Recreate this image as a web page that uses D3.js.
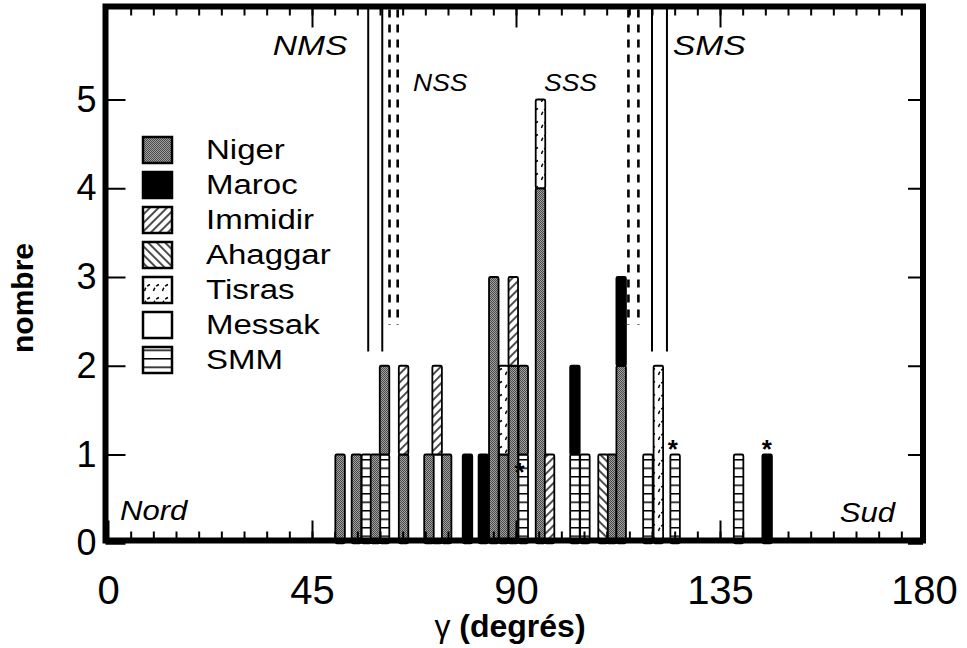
<!DOCTYPE html>
<html>
<head>
<meta charset="utf-8">
<script src="https://cdn.jsdelivr.net/npm/d3@7"></script>
<style>
  body { margin: 0; background: #fff; }
  svg { display: block; }
  text { font-family: "Liberation Sans", Arial, sans-serif; fill: #000; }
</style>
</head>
<body>
<div id="chart"></div>
<script>
// bin centres (degrés) and number of dykes per region in each bin
var angles  = [51.2,54.8,57.0,59.0,61.0,65.2,70.8,72.6,74.7,79.3,82.8,85.1,87.3,89.4,91.6,95.4,97.4,103.0,105.2,109.2,111.1,113.2,119.1,121.4,125.1,139.1,145.4];
var smm     = [0,0,1,0,1,0,0,0,0,0,0,0,0,0,1,0,0,1,1,0,0,0,1,0,1,1,0];
var messak  = [0,0,0,0,0,0,0,1,0,0,0,0,0,0,0,0,0,0,0,0,0,0,0,0,0,0,0];
var niger   = [1,1,0,1,1,1,1,0,1,0,0,3,1,2,1,4,0,0,0,0,1,2,0,0,0,0,0];
var maroc   = [0,0,0,0,0,0,0,0,0,1,1,0,0,0,0,0,0,1,0,0,0,1,0,0,0,0,1];
var immidir = [0,0,0,0,0,1,0,1,0,0,0,0,0,1,0,0,1,0,0,0,0,0,0,0,0,0,0];
var ahaggar = [0,0,0,0,0,0,0,0,0,0,0,0,0,0,0,0,0,0,0,1,0,0,0,0,0,0,0];
var tisras  = [0,0,0,0,0,0,0,0,0,0,0,0,1,0,0,1,0,0,0,0,0,0,0,2,0,0,0];

var legendNames = ["Niger","Maroc","Immidir","Ahaggar","Tisras","Messak","SMM"];
var stackOrder  = ["SMM","Messak","Niger","Maroc","Immidir","Ahaggar","Tisras"];

// starred samples: [angle, level]
var stars = [[90.8, 0.87], [124.6, 1.13], [145.3, 1.13]];

// domain boundaries (degrés)
var solidLines  = [57.4, 60.5, 120.0, 123.3];
var dashedLines = [62.1, 63.9, 114.8, 117.0];
var zoneLabels  = [
  {t: "NMS", a: 52.8, v: 5.5, size: 28, anchor: "end"},
  {t: "NSS", a: 67.3, v: 5.1, size: 23, anchor: "start"},
  {t: "SSS", a: 96.2, v: 5.1, size: 23, anchor: "start"},
  {t: "SMS", a: 124.6, v: 5.5, size: 28, anchor: "start"}
];

var xTicks = [0, 45, 90, 135, 180];
var yTicks = [0, 1, 2, 3, 4, 5];

var width = 967, height = 648;
var frame = {left: 105.5, right: 923, top: 6.5, bottom: 540.5};

var svg = d3.select("#chart").append("svg")
    .attr("width", width)
    .attr("height", height);

var x = d3.scaleLinear().domain([0, 180]).range([108, 924]);
var y = d3.scaleLinear().domain([0, 6]).range([543.25, 10.75]);
var binW = 2.1;

// fills
var defs = svg.append("defs");
var pg = defs.append("pattern").attr("id", "p-niger")
    .attr("patternUnits", "userSpaceOnUse").attr("width", 2).attr("height", 2);
pg.append("rect").attr("width", 2).attr("height", 2).attr("fill", "#a0a0a0");
pg.append("rect").attr("width", 1).attr("height", 1).attr("fill", "#4a4a4a");
pg.append("rect").attr("x", 1).attr("y", 1).attr("width", 1).attr("height", 1).attr("fill", "#4a4a4a");

function hatch(id, angle) {
  var p = defs.append("pattern").attr("id", id)
      .attr("patternUnits", "userSpaceOnUse").attr("width", 6).attr("height", 6)
      .attr("patternTransform", "rotate(" + angle + ")");
  p.append("rect").attr("width", 6).attr("height", 6).attr("fill", "#fff");
  p.append("line").attr("x1", 1).attr("y1", 0).attr("x2", 1).attr("y2", 6)
      .attr("stroke", "#000").attr("stroke-width", 1.4);
}
hatch("p-immidir", 45);
hatch("p-ahaggar", -45);

var pt = defs.append("pattern").attr("id", "p-tisras")
    .attr("patternUnits", "userSpaceOnUse").attr("width", 9).attr("height", 13);
pt.append("rect").attr("width", 9).attr("height", 13).attr("fill", "#fff");
pt.append("path").attr("d", "M1.5,11 Q2.5,6.5 7,4.5").attr("fill", "none")
    .attr("stroke", "#000").attr("stroke-width", 1.4).attr("stroke-dasharray", "3.5,2");

var ps = defs.append("pattern").attr("id", "p-smm")
    .attr("patternUnits", "userSpaceOnUse").attr("width", 10).attr("height", 8.5);
ps.append("rect").attr("width", 10).attr("height", 8.5).attr("fill", "#fff");
ps.append("line").attr("x1", 0).attr("y1", 0.75).attr("x2", 10).attr("y2", 0.75)
    .attr("stroke", "#000").attr("stroke-width", 1.5);

var fills = {
  Niger: "url(#p-niger)", Maroc: "#000", Immidir: "url(#p-immidir)",
  Ahaggar: "url(#p-ahaggar)", Tisras: "url(#p-tisras)", Messak: "#fff", SMM: "url(#p-smm)"
};

// table built from the arrays
var table = angles.map(function(a, i) {
  return {angle: a, SMM: smm[i], Messak: messak[i], Niger: niger[i], Maroc: maroc[i],
          Immidir: immidir[i], Ahaggar: ahaggar[i], Tisras: tisras[i]};
});
var series = d3.stack().keys(stackOrder)(table);

// bars
var bars = svg.append("g");
series.forEach(function(s) {
  bars.selectAll(null).data(s.filter(function(d) { return d[1] > d[0]; })).enter()
    .append("rect")
      .attr("x", function(d) { return x(d.data.angle - binW / 2); })
      .attr("width", x(binW) - x(0))
      .attr("y", function(d) { return y(d[1]); })
      .attr("height", function(d) { return y(d[0]) - y(d[1]); })
      .attr("rx", 1.5)
      .attr("fill", fills[s.key])
      .attr("stroke", "#000")
      .attr("stroke-width", 1.8);
});

// stars
svg.selectAll(".star").data(stars).enter().append("text")
    .attr("class", "star")
    .attr("x", function(d) { return x(d[0]); })
    .attr("y", function(d) { return y(d[1]) + 15; })
    .attr("text-anchor", "middle")
    .style("font-size", "26px")
    .style("font-weight", "bold")
    .text("*");

// boundary lines
svg.selectAll(".solid").data(solidLines).enter().append("line")
    .attr("x1", function(d) { return x(d); }).attr("x2", function(d) { return x(d); })
    .attr("y1", frame.top).attr("y2", y(2.16))
    .attr("stroke", "#000").attr("stroke-width", 2);
svg.selectAll(".dashed").data(dashedLines).enter().append("line")
    .attr("x1", function(d) { return x(d); }).attr("x2", function(d) { return x(d); })
    .attr("y1", frame.top + 3).attr("y2", y(2.46))
    .attr("stroke", "#000").attr("stroke-width", 2.6)
    .style("stroke-dasharray", "8,7");

// stretched italic / legend text helper
function label(sel, px, py, txt, size, opts) {
  opts = opts || {};
  var g = sel.append("g").attr("transform", "translate(" + px + "," + py + ") scale(" + (opts.sx || 1.2) + ",1)");
  return g.append("text")
      .attr("text-anchor", opts.anchor || "start")
      .style("font-size", size + "px")
      .style("font-style", opts.italic ? "italic" : "normal")
      .text(txt);
}

zoneLabels.forEach(function(z) {
  label(svg, x(z.a), y(z.v), z.t, z.size, {italic: true, anchor: z.anchor, sx: z.size > 25 ? 1.2 : 1.15});
});
label(svg, 120, 520, "Nord", 27, {italic: true, sx: 1.15});
label(svg, 895, 522, "Sud", 27, {italic: true, anchor: "end", sx: 1.15});

// legend
var legend = svg.append("g").attr("transform", "translate(143,137)");
legendNames.forEach(function(n, i) {
  legend.append("rect")
      .attr("x", 0).attr("y", i * 35)
      .attr("width", 29).attr("height", 26)
      .attr("fill", fills[n]).attr("stroke", "#000").attr("stroke-width", 2.5);
  label(legend, 63, i * 35 + 22, n, 27.5);
});

// axes
function clean(g) {
  g.select(".domain").remove();
  g.selectAll(".tick line").attr("stroke", "#000").attr("stroke-width", 2);
}
var minor = d3.range(5, 180, 5);
svg.append("g").attr("transform", "translate(0," + frame.top + ")")
    .call(d3.axisTop(x).tickValues(minor).tickSize(-9).tickFormat(""))
    .call(clean);
svg.append("g").attr("transform", "translate(0," + frame.top + ")")
    .call(d3.axisTop(x).tickValues([45, 90, 135]).tickSize(-21).tickFormat(""))
    .call(clean);
svg.append("g").attr("transform", "translate(0," + frame.bottom + ")")
    .call(d3.axisBottom(x).tickValues(minor).tickSize(-9).tickFormat(""))
    .call(clean);
svg.append("g").attr("transform", "translate(0," + frame.bottom + ")")
    .call(d3.axisBottom(x).tickValues(xTicks).tickSize(-20).tickPadding(35).tickFormat(d3.format("d")))
    .call(clean)
    .call(function(g) {
      g.selectAll("text").style("font-size", "40px").style("font-family", "'Liberation Sans', Arial, sans-serif");
    });
svg.append("g").attr("transform", "translate(" + frame.left + ",0)")
    .call(d3.axisLeft(y).tickValues(yTicks).tickSize(-20).tickPadding(9).tickFormat(d3.format("d")))
    .call(clean)
    .call(function(g) {
      g.selectAll("text").style("font-size", "36px").style("font-family", "'Liberation Sans', Arial, sans-serif");
    });
svg.append("g").attr("transform", "translate(" + frame.right + ",0)")
    .call(d3.axisRight(y).tickValues(yTicks).tickSize(-15).tickFormat(""))
    .call(clean);

// frame
svg.append("rect")
    .attr("x", frame.left).attr("y", frame.top)
    .attr("width", frame.right - frame.left).attr("height", frame.bottom - frame.top)
    .attr("fill", "none").attr("stroke", "#000").attr("stroke-width", 6);

// axis titles
svg.append("text")
    .attr("transform", "translate(33,298) rotate(-90)")
    .attr("text-anchor", "middle")
    .style("font-size", "30px").style("font-weight", "bold")
    .text("nombre");
var xt = svg.append("text")
    .attr("x", 510).attr("y", 637)
    .attr("text-anchor", "middle")
    .style("font-size", "32px");
xt.append("tspan").text("γ  ");
xt.append("tspan").style("font-weight", "bold").text("(degrés)");
</script>
</body>
</html>
